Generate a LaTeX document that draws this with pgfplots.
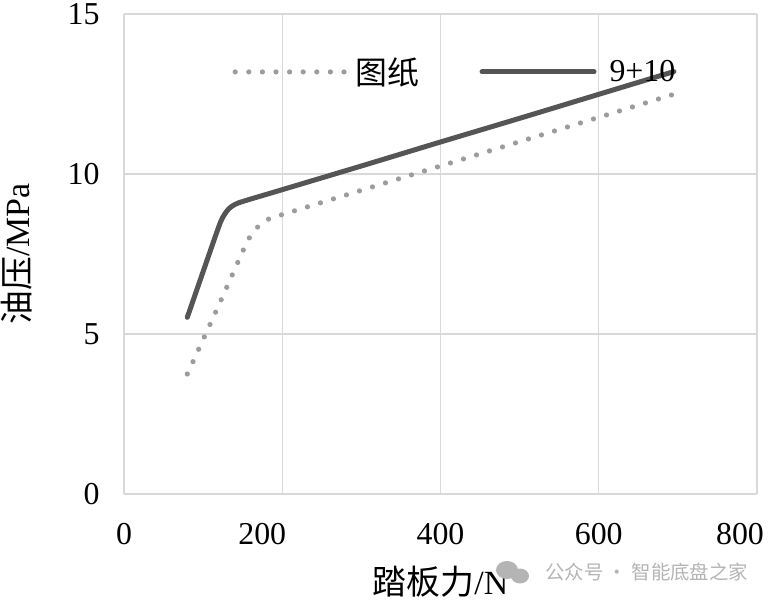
\documentclass[border=0pt]{standalone}
\usepackage{fontspec}
\setmainfont{Liberation Serif}
\newfontfamily\cjk{Noto Sans CJK SC}
\usepackage{pgfplots}
\pgfplotsset{compat=1.18}
\definecolor{gridc}{HTML}{D9D9D9}
\definecolor{solidc}{HTML}{555555}
\definecolor{dotc}{HTML}{9C9C9C}
\definecolor{wmc}{HTML}{B4B4B4}
\begin{document}
\begin{tikzpicture}
\useasboundingbox (-124bp,-108bp) rectangle (648bp,494bp);
\begin{axis}[
  at={(0,0)}, anchor=south west,
  scale only axis, width=633bp, height=480bp,
  xmin=0, xmax=800, ymin=0, ymax=15,
  xtick={0,200,400,600,800}, ytick={0,5,10,15},
  xticklabels={0,\kern-40bp 200,400,600,\kern-34bp 800},
  grid=major, major grid style={draw=gridc, line width=1.3bp},
  axis line style={draw=none}, tick style={draw=none},
  /pgf/number format/assume math mode=true,
  tick label style={font=\fontsize{32}{36}\selectfont},
  xticklabel style={yshift=-26bp},
  yticklabel style={xshift=-21bp},
  label style={font=\fontsize{34}{38}\selectfont},
  xlabel={{\cjk 踏板力}/N},
  ylabel={{\cjk 油压}/MPa},
  xlabel style={at={(axis description cs:0.5,-0.183)}, anchor=center},
  ylabel style={at={(axis description cs:-0.170,0.5)}, anchor=center},
  legend style={at={(axis cs:137,13.19)}, anchor=west, draw=none, fill=none,
    inner sep=0pt, legend columns=2,
    font=\fontsize{32}{36}\selectfont,
    /tikz/every even column/.append style={column sep=58bp}},
  legend cell align=left,
  legend image code/.code={\draw[#1] (0bp,0bp) -- (112bp,0bp);},
]
\addplot[dotc, line width=5.2bp, line cap=round, dash pattern=on 0pt off 13.6bp, smooth, tension=0.35]
coordinates {(80,3.75) (118,5.80) (155,7.85) (168,8.32) (180,8.55) (192,8.67) (300,9.49) (400,10.25) (500,11.01) (600,11.77) (692,12.47)};
\addlegendentry{\kern4bp{\cjk 图纸}}
\addplot[solidc, line width=5bp, line cap=round, smooth, tension=0.35]
coordinates {(80,5.52) (100,6.95) (122,8.50) (132,8.90) (145,9.10) (200,9.51) (300,10.25) (400,11.00) (500,11.74) (600,12.49) (695,13.20)};
\addlegendentry{\kern11bp 9+10}
\end{axis}
\fill[wmc] (383bp,-76bp) ellipse (11bp and 9bp);
\fill[wmc] (396bp,-82bp) ellipse (9bp and 7.5bp);
\node[anchor=west, text=wmc, inner sep=0pt, font=\cjk\fontsize{19.5}{22}\selectfont] at (421bp,-78bp) {公众号 · 智能底盘之家};
\end{tikzpicture}
\end{document}
